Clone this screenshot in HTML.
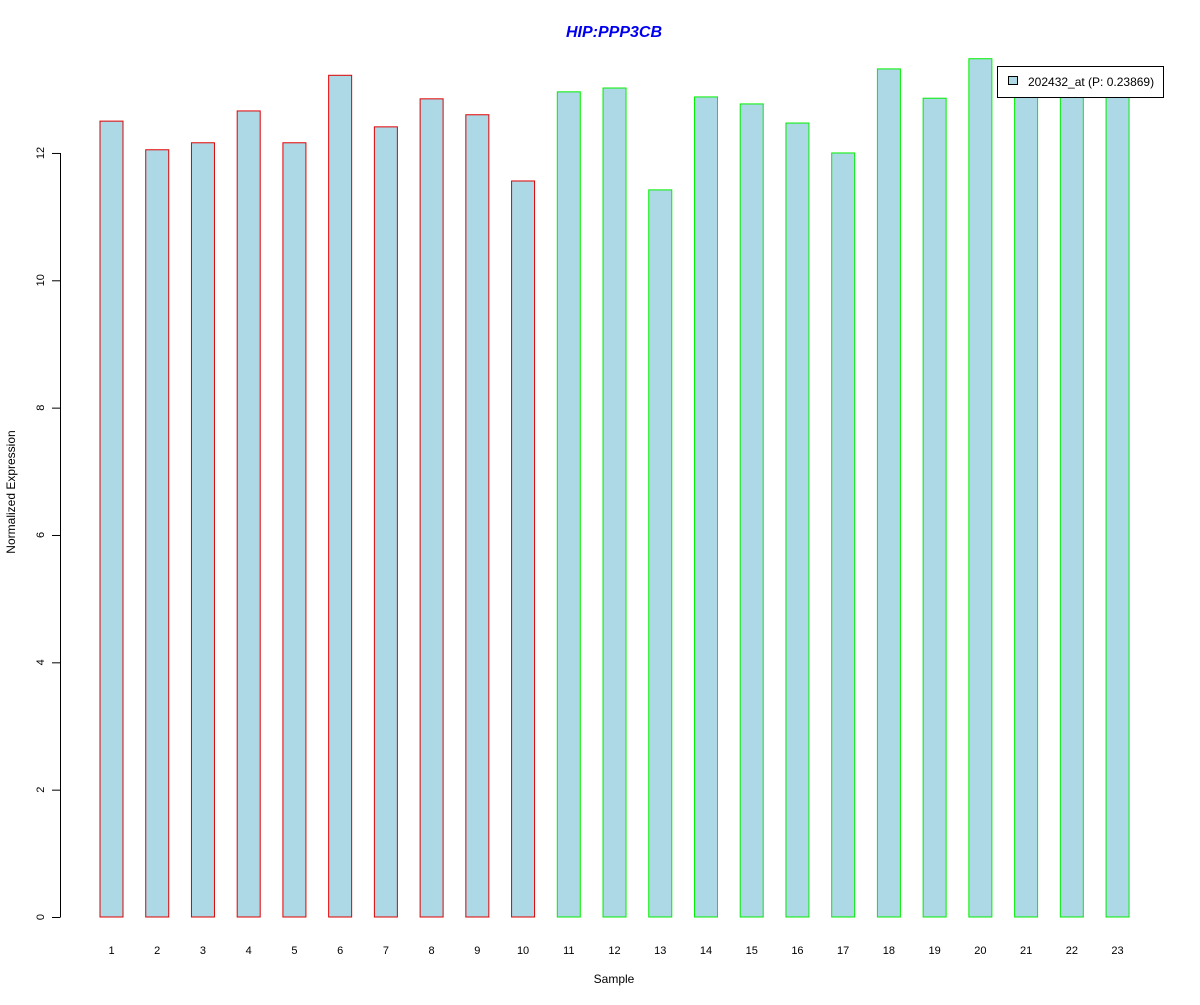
<!DOCTYPE html>
<html><head><meta charset="utf-8"><style>
body{margin:0;background:#fff}
text{font-family:"Liberation Sans",Arial,sans-serif}
</style></head><body>
<svg id="chart" width="1200" height="1000" xmlns="http://www.w3.org/2000/svg">
<rect width="1200" height="1000" fill="#fff"/>
<text x="614" y="37" text-anchor="middle" font-size="16" font-weight="bold" font-style="italic" fill="#0000ee">HIP:PPP3CB</text>
<text x="614" y="983" text-anchor="middle" font-size="12">Sample</text>
<text transform="translate(15,492) rotate(-90)" text-anchor="middle" font-size="12">Normalized Expression</text>
<g id="yaxis"></g>
<g id="bars"></g>
<g id="xlabels"></g>
<g>
<rect x="997.5" y="66.5" width="166" height="31" fill="#fff" stroke="#000"/>
<rect x="1008.5" y="76.5" width="9" height="8" fill="#add8e6" stroke="#000"/>
<text x="1028" y="86" font-size="12">202432_at (P: 0.23869)</text>
</g>
</svg>
<script>
const categories=["1","2","3","4","5","6","7","8","9","10","11","12","13","14","15","16","17","18","19","20","21","22","23"];
const values=[12.50,12.05,12.16,12.66,12.16,13.22,12.41,12.85,12.60,11.56,12.96,13.02,11.42,12.88,12.77,12.47,12.00,13.32,12.86,13.48,13.05,13.10,13.02];
const groups=["a","a","a","a","a","a","a","a","a","a","b","b","b","b","b","b","b","b","b","b","b","b","b"];
const yTicks=[0,2,4,6,8,10,12];
const NS="http://www.w3.org/2000/svg";
function y(v){return 917-v*63.67;}
function xc(i){return 111.5+i*45.73;}
const bars=document.getElementById('bars'),xl=document.getElementById('xlabels'),ya=document.getElementById('yaxis');
values.forEach((v,i)=>{
 const r=document.createElementNS(NS,'rect');
 
 
 r.setAttribute('x',xc(i)-11.5);r.setAttribute('width',23);
 r.setAttribute('y',y(v));r.setAttribute('height',y(0)-y(v));
 r.setAttribute('fill','#add8e6');r.setAttribute('stroke',groups[i]=="a"?'#e00000':'#00ee00');
 bars.appendChild(r);
 const t=document.createElementNS(NS,'text');
 
 
 t.setAttribute('x',xc(i));t.setAttribute('y',954);t.setAttribute('text-anchor','middle');t.setAttribute('font-size','11');
 t.textContent=categories[i];xl.appendChild(t);
});
const ln=document.createElementNS(NS,'line');


ln.setAttribute('x1',60.5);ln.setAttribute('x2',60.5);ln.setAttribute('y1',y(0));ln.setAttribute('y2',y(12));ln.setAttribute('stroke','#000');
ya.appendChild(ln);
yTicks.forEach(v=>{
 const tk=document.createElementNS(NS,'line');
 
 
 tk.setAttribute('x1',52);tk.setAttribute('x2',60.5);tk.setAttribute('y1',y(v)+.5);tk.setAttribute('y2',y(v)+.5);tk.setAttribute('stroke','#000');
 ya.appendChild(tk);
 const t=document.createElementNS(NS,'text');
 
 
 t.setAttribute('transform','translate(44,'+y(v)+') rotate(-90)');t.setAttribute('text-anchor','middle');t.setAttribute('font-size','11');
 t.textContent=v;ya.appendChild(t);
});
</script>
</body></html>
